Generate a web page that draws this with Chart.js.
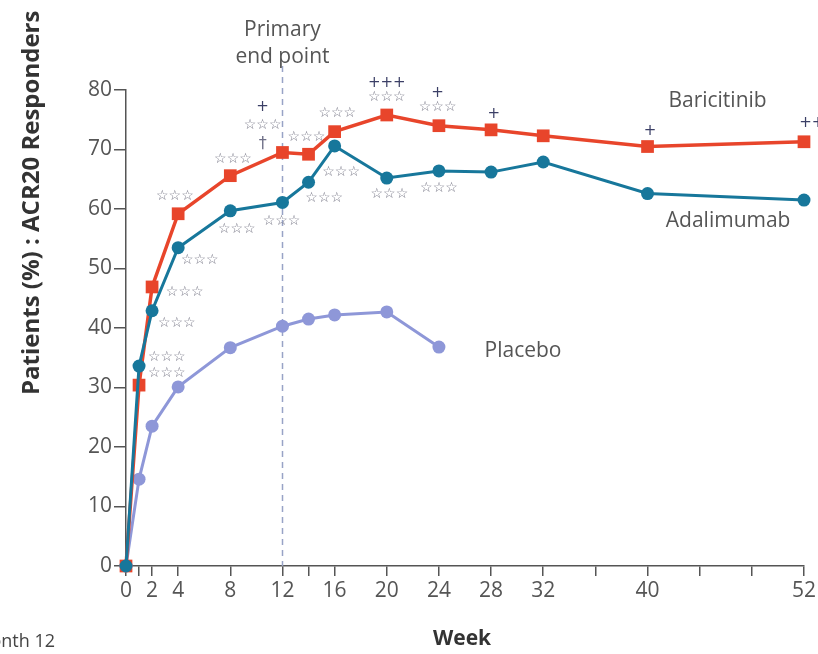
<!DOCTYPE html>
<html>
<head>
<meta charset="utf-8">
<script src="https://cdn.jsdelivr.net/npm/chart.js@4/dist/chart.umd.min.js"></script>
<style>
  html, body { margin: 0; padding: 0; background: #ffffff; }
  #wrap { width: 818px; height: 654px; position: relative; }
</style>
</head>
<body>
<div id="wrap"><canvas id="c" width="818" height="654"></canvas></div>
<script>
// ACR20 response over 52 weeks
const weeks        = [0, 1, 2, 4, 8, 12, 14, 16, 20, 24, 28, 32, 40, 52];
const baricitinib  = [0, 30.4, 46.9, 59.2, 65.6, 69.5, 69.2, 73.0, 75.8, 74.0, 73.3, 72.3, 70.5, 71.3];
const adalimumab   = [0, 33.6, 42.9, 53.5, 59.7, 61.1, 64.5, 70.6, 65.2, 66.4, 66.2, 67.9, 62.6, 61.5];
const placeboWeeks = [0, 1, 2, 4, 8, 12, 14, 16, 20, 24];
const placebo      = [0, 14.6, 23.5, 30.1, 36.7, 40.3, 41.5, 42.2, 42.7, 36.8];

const tickWeeks    = [0, 1, 2, 4, 8, 12, 14, 16, 20, 24, 28, 32, 36, 40, 44, 48, 52];
const labelWeeks   = [0, 2, 4, 8, 12, 16, 20, 24, 28, 32, 40, 52];
const yTicks       = [0, 10, 20, 30, 40, 50, 60, 70, 80];
const primaryWeek  = 12;

// significance markers: [week, value] / [week, value, text]
const STARS = '\u2606\u2606\u2606';
const starMarks = [
  [3.75, 62.2], [5.66, 51.3], [4.5, 46.0], [3.9, 40.8], [3.13, 35.0], [3.13, 32.4],
  [8.5, 56.6], [11.93, 58.0], [8.2, 68.4], [10.48, 74.0], [13.84, 72.1],
  [16.2, 76.1], [16.5, 66.2], [15.2, 61.8], [20.0, 78.8], [20.2, 62.5],
  [23.9, 77.0], [24.0, 63.5]
];
const plusMarks = [
  [10.48, 77.2, '+'], [20.0, 81.2, '+++'], [23.9, 79.5, '+'], [28.2, 76.0, '+'],
  [40.2, 73.1, '+'], [52.6, 74.5, '++']
];
const daggerMarks = [[10.48, 71.0, '\u2020']];

// series names: [text, week of left edge, value of baseline]
const seriesLabels = [
  ['Baricitinib', 41.6, 77.1],
  ['Adalimumab', 41.4, 57.0],
  ['Placebo', 27.5, 35.1]
];

const RED = '#e8452b', TEAL = '#17779b', LAV = '#8e97d8';
const AXIS = '#555555';
const TXT = '#555555';

function pts(xs, ys) { return xs.map((x, i) => ({ x: x, y: ys[i] })); }

const overlay = {
  id: 'overlay',
  beforeDatasetsDraw(chart) {
    const { ctx, scales: { x }, chartArea } = chart;
    const px = Math.round(x.getPixelForValue(primaryWeek)) + 0.5;
    ctx.save();
    ctx.strokeStyle = '#98a3c6';
    ctx.lineWidth = 1.5;
    ctx.setLineDash([6, 5]);
    ctx.beginPath();
    ctx.moveTo(px, 66);
    ctx.lineTo(px, chartArea.bottom);
    ctx.stroke();
    ctx.restore();
  },
  afterDraw(chart) {
    const { ctx, scales: { x, y } } = chart;
    ctx.save();
    ctx.textAlign = 'center';
    ctx.textBaseline = 'middle';

    // stars
    ctx.fillStyle = '#777786';
    ctx.font = 'bold 14px "DejaVu Sans"';
    starMarks.forEach(([w, v]) => {
      ctx.fillText(STARS, x.getPixelForValue(w), y.getPixelForValue(v));
    });
    // plus signs
    ctx.fillStyle = '#3b3f66';
    ctx.font = '15px "DejaVu Sans"';
    plusMarks.forEach(([w, v, t]) => {
      ctx.fillText(t, x.getPixelForValue(w), y.getPixelForValue(v));
    });
    ctx.font = '16px "DejaVu Sans"';
    ctx.fillStyle = '#6f7088';
    daggerMarks.forEach(([w, v, t]) => {
      ctx.fillText(t, x.getPixelForValue(w), y.getPixelForValue(v));
    });

    // series names
    ctx.fillStyle = TXT;
    ctx.textAlign = 'left';
    ctx.textBaseline = 'alphabetic';
    ctx.font = '21px "Open Sans"';
    seriesLabels.forEach(([t, w, v]) => {
      ctx.fillText(t, x.getPixelForValue(w), y.getPixelForValue(v));
    });

    // primary end point caption
    ctx.textAlign = 'center';
    ctx.font = '21px "Open Sans"';
    const cx = x.getPixelForValue(primaryWeek);
    ctx.fillText('Primary', cx, 36);
    ctx.fillText('end point', cx, 63);

    // axis titles
    ctx.font = 'bold 21px "Open Sans"';
    ctx.fillStyle = '#333333';
    ctx.fillText('Week', 462, 645);

    ctx.save();
    ctx.translate(39, 395);
    ctx.rotate(-Math.PI / 2);
    ctx.textAlign = 'left';
    ctx.font = 'bold 24px "Open Sans"';
    ctx.fillText('Patients (%) : ACR20 Responders', 0, 0);
    ctx.restore();

    ctx.textAlign = 'right';
    ctx.font = '18px "Liberation Sans Narrow", "Open Sans"';
    ctx.fillStyle = '#444444';
    ctx.fillText('Month 12', 55, 647);
    ctx.restore();
  }
};

new Chart(document.getElementById('c'), {
  type: 'line',
  data: {
    datasets: [
      {
        label: 'Adalimumab',
        data: pts(weeks, adalimumab),
        borderColor: TEAL, backgroundColor: TEAL,
        borderWidth: 3, pointStyle: 'circle', pointRadius: 6.5,
        pointBorderWidth: 0, tension: 0
      },
      {
        label: 'Baricitinib',
        data: pts(weeks, baricitinib),
        borderColor: RED, backgroundColor: RED,
        borderWidth: 3.5, pointStyle: 'rect', pointRadius: 9,
        pointBorderWidth: 0, tension: 0
      },
      {
        label: 'Placebo',
        data: pts(placeboWeeks, placebo),
        borderColor: LAV, backgroundColor: LAV,
        borderWidth: 3, pointStyle: 'circle', pointRadius: 6.5,
        pointBorderWidth: 0, tension: 0
      }
    ]
  },
  options: {
    responsive: false,
    animation: false,
    clip: false,
    layout: { padding: { left: 0, right: 12, top: 90, bottom: 0 } },
    plugins: { legend: { display: false }, tooltip: { enabled: false } },
    scales: {
      x: {
        type: 'linear', min: 0, max: 52,
        afterBuildTicks(scale) { scale.ticks = tickWeeks.map(v => ({ value: v })); },
        afterFit(scale) { scale.height = 88; },
        ticks: {
          autoSkip: false, maxRotation: 0, padding: 2,
          color: AXIS,
          font: { family: '"Liberation Sans Narrow", "Open Sans", sans-serif', size: 21 },
          callback: v => labelWeeks.includes(v) ? String(v) : ''
        },
        grid: { drawOnChartArea: false, drawTicks: true, tickLength: 10, color: AXIS, lineWidth: 1.5 },
        border: { display: true, color: AXIS, width: 1.5 }
      },
      y: {
        min: 0, max: 80,
        afterBuildTicks(scale) { scale.ticks = yTicks.map(v => ({ value: v })); },
        afterFit(scale) { scale.width = 126; },
        ticks: {
          padding: 2, color: AXIS,
          font: { family: '"Liberation Sans Narrow", "Open Sans", sans-serif', size: 21 }
        },
        grid: { drawOnChartArea: false, drawTicks: true, tickLength: 12, color: AXIS, lineWidth: 1.5 },
        border: { display: true, color: AXIS, width: 1.5 }
      }
    }
  },
  plugins: [overlay]
});
</script>
</body>
</html>
